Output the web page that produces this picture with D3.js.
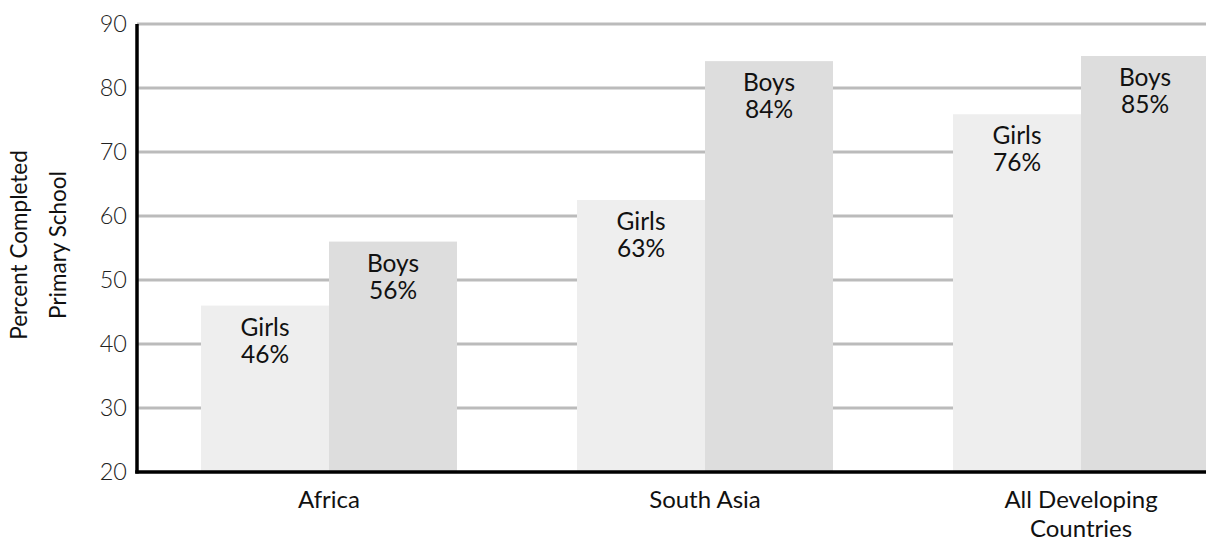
<!DOCTYPE html>
<html>
<head>
<meta charset="utf-8">
<script src="https://cdn.jsdelivr.net/npm/d3@7"></script>
<style>
  body { margin: 0; background: #fff; }
  svg { display: block; font-family: Lato, "Open Sans", sans-serif; }
</style>
</head>
<body>
<script>
const w = 1206;
const h = 542;

// data
const regions = ["Africa", "South Asia", "All Developing Countries"];
const regionLines = [["Africa"], ["South Asia"], ["All Developing", "Countries"]];
const groups = ["Girls", "Boys"];
const girls = [46, 62.5, 75.9];
const boys = [56, 84.2, 85];
const girlsLabels = ["46%", "63%", "76%"];
const boysLabels = ["56%", "84%", "85%"];
const yTicks = [20, 30, 40, 50, 60, 70, 80, 90];

const colors = { Girls: "#eeeeee", Boys: "#dddddd" };

const rows = [];
regions.forEach((r, i) => {
  rows.push({ region: r, group: "Girls", value: girls[i], label: girlsLabels[i] });
  rows.push({ region: r, group: "Boys", value: boys[i], label: boysLabels[i] });
});

const plotLeft = 137;
const plotTop = 24;
const plotBottom = 472;

const svg = d3.select("body").append("svg").attr("width", w).attr("height", h);

const y = d3.scaleLinear().domain([20, 90]).range([plotBottom, plotTop]);

const x = d3.scaleBand()
  .domain(regions)
  .range([plotLeft, plotLeft + 1136])
  .paddingInner(120 / 376)
  .paddingOuter(64 / 376);

const xInner = d3.scaleBand().domain(groups).range([0, x.bandwidth()]);

// gridlines
svg.append("g")
  .selectAll("line")
  .data(yTicks.slice(1))
  .join("line")
  .attr("x1", plotLeft)
  .attr("x2", w)
  .attr("y1", (d) => y(d))
  .attr("y2", (d) => y(d))
  .attr("stroke", "#bbbbbb")
  .attr("stroke-width", 3);

// bars
svg.append("g")
  .selectAll("rect")
  .data(rows)
  .join("rect")
  .attr("x", (d) => x(d.region) + xInner(d.group))
  .attr("y", (d) => y(d.value))
  .attr("width", xInner.bandwidth())
  .attr("height", (d) => y(20) - y(d.value))
  .attr("fill", (d) => colors[d.group]);

// bar labels
const lab = svg.append("g")
  .selectAll("text")
  .data(rows)
  .join("text")
  .attr("text-anchor", "middle")
  .attr("font-size", 24.5)
  .attr("fill", "#111")
  .attr("x", (d) => x(d.region) + xInner(d.group) + xInner.bandwidth() / 2)
  .attr("y", (d) => y(d.value) + 30);
lab.append("tspan").text((d) => d.group);
lab.append("tspan")
  .attr("x", (d) => x(d.region) + xInner(d.group) + xInner.bandwidth() / 2)
  .attr("dy", 27)
  .text((d) => d.label);

// y axis
const yAxis = d3.axisLeft(y).tickValues(yTicks).tickSize(0).tickPadding(10);
const gy = svg.append("g")
  .attr("transform", `translate(${plotLeft},0)`)
  .call(yAxis);
gy.select(".domain").remove();
gy.selectAll("text")
  .attr("font-size", 23.5)
  .attr("font-family", "Lato, 'Open Sans', sans-serif")
  .attr("font-weight", 300)
  .attr("fill", "#222")
  .attr("dy", "0.3em");

// axis lines
svg.append("line")
  .attr("x1", plotLeft).attr("x2", plotLeft)
  .attr("y1", plotTop).attr("y2", plotBottom + 1.5)
  .attr("stroke", "#000").attr("stroke-width", 3.5);
svg.append("line")
  .attr("x1", plotLeft - 1.75).attr("x2", w)
  .attr("y1", plotBottom).attr("y2", plotBottom)
  .attr("stroke", "#000").attr("stroke-width", 3.5);

// x labels
svg.append("g")
  .selectAll("text")
  .data(regions)
  .join("text")
  .attr("text-anchor", "middle")
  .attr("font-size", 24)
  .attr("fill", "#111")
  .attr("y", 508)
  .each(function (d, i) {
    const t = d3.select(this);
    regionLines[i].forEach((line, j) => {
      t.append("tspan")
        .attr("x", x(d) + x.bandwidth() / 2)
        .attr("dy", j === 0 ? 0 : 29)
        .text(line);
    });
  });

// y title
const yt = svg.append("text")
  .attr("transform", "translate(0,245) rotate(-90)")
  .attr("text-anchor", "middle")
  .attr("font-size", 22.5)
  .attr("fill", "#111");
yt.append("tspan").attr("x", 0).attr("y", 27).text("Percent Completed");
yt.append("tspan").attr("x", 0).attr("y", 66).text("Primary School");
</script>
</body>
</html>
